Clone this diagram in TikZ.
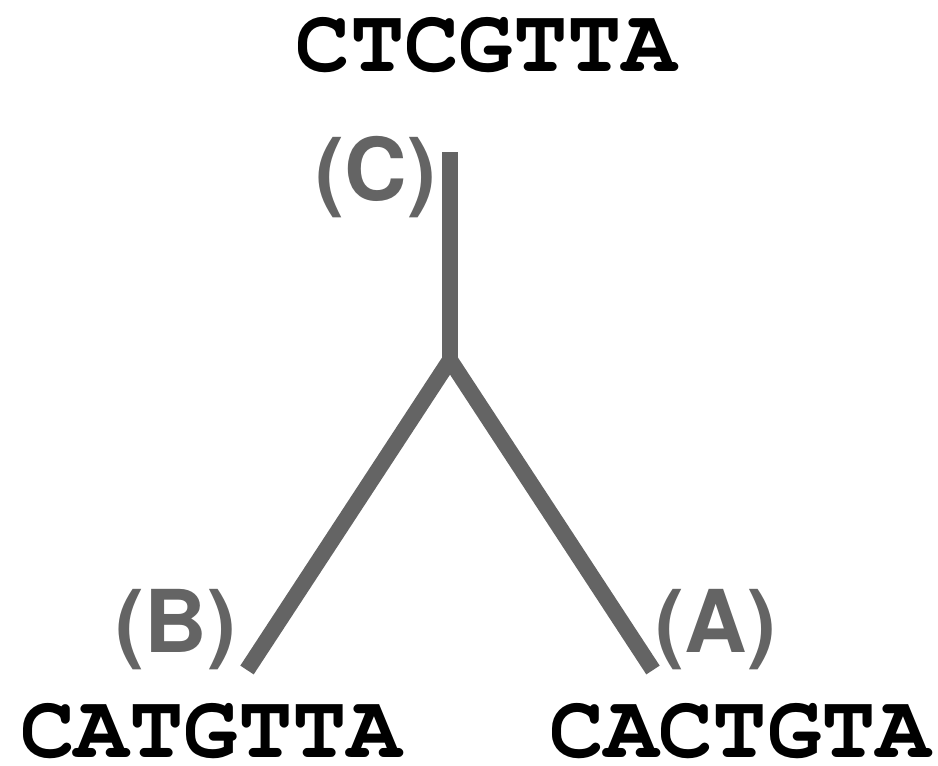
\documentclass[tikz,border=0pt]{standalone}
\usepackage{fontspec}
\newfontfamily\labfont{TeX Gyre Heros}
\newcommand{\seqfont}{\fontencoding{OT1}\fontfamily{pcr}\fontseries{b}\selectfont}
\definecolor{branchgray}{HTML}{646464}

\begin{document}
\begin{tikzpicture}[x=0.75pt, y=-0.75pt,
        seq/.style={anchor=base, inner sep=0pt, text height=40pt, text depth=0pt, font=\seqfont\fontsize{68}{68}\selectfont},
        clade/.style={anchor=base, inner sep=0pt, text=branchgray, font=\labfont\bfseries\fontsize{65}{65}\selectfont},
        branch/.style={line width=12pt, draw=branchgray, line cap=butt, line join=miter}]
    \useasboundingbox (0, 0) rectangle (938, 765);

    \coordinate (top) at (450, 152);
    \coordinate (fork) at (450, 360);
    \coordinate (leftend) at (247, 670);
    \coordinate (rightend) at (653, 670);

    \draw[branch] (leftend) -- (fork) -- (rightend);
    \draw[branch] (fork) -- (top);

    \node[seq] (root) at (486, 71) {CTCGTTA};
    \node[seq] (seqB) at (211, 757) {CATGTTA};
    \node[seq] (seqA) at (740, 757) {CACTGTA};

    \node[clade] (labC) at (376, 200) {(C)};
    \node[clade] (labB) at (176, 652) {(B)};
    \node[clade] (labA) at (716, 652) {(A)};
\end{tikzpicture}
\end{document}
